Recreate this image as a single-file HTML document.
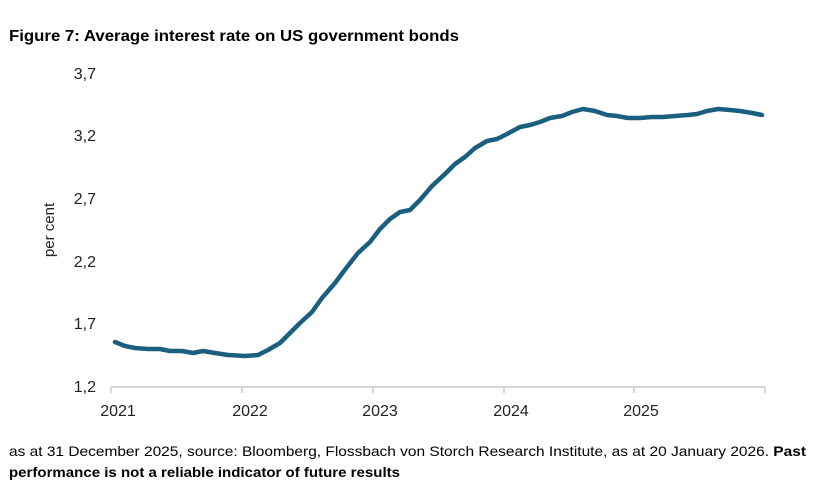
<!DOCTYPE html>
<html><head><meta charset="utf-8"><style>
body{margin:0;background:#fff;width:816px;height:502px;overflow:hidden;font-family:"Liberation Sans",Arial,sans-serif}
svg{position:absolute;left:0;top:0}
</style></head><body>
<svg width="816" height="502" xmlns="http://www.w3.org/2000/svg" font-family="Liberation Sans, Arial, sans-serif">
<text x="9" y="41" font-size="16" font-weight="bold" fill="#000" textLength="450" lengthAdjust="spacingAndGlyphs">Figure 7: Average interest rate on US government bonds</text>
<g font-size="16" fill="#222" text-anchor="end">
<text x="96" y="79">3,7</text>
<text x="96" y="141">3,2</text>
<text x="96" y="204">2,7</text>
<text x="96" y="267">2,2</text>
<text x="96" y="329">1,7</text>
<text x="96" y="392">1,2</text>
</g>
<text transform="translate(54,230) rotate(-90)" font-size="15" fill="#222" text-anchor="middle">per cent</text>
<g stroke="#bfbfbf" stroke-width="1.3">
<line x1="111" y1="387" x2="765" y2="387"/>
<line x1="111" y1="387" x2="111" y2="393"/>
<line x1="242" y1="387" x2="242" y2="393"/>
<line x1="373" y1="387" x2="373" y2="393"/>
<line x1="504" y1="387" x2="504" y2="393"/>
<line x1="634" y1="387" x2="634" y2="393"/>
<line x1="765" y1="387" x2="765" y2="393"/>
</g>
<g font-size="16" fill="#222" text-anchor="middle">
<text x="118" y="416">2021</text><text x="250" y="416">2022</text><text x="380" y="416">2023</text><text x="511" y="416">2024</text><text x="641" y="416">2025</text>
</g>
<polyline fill="none" stroke="#1b5f80" stroke-width="4.5" stroke-linejoin="round" stroke-linecap="round" points="115,342 125,346 135,348 148,349 160,349 170,351 182,351 193,353 203,351 215,353 228,355 245,356 258,355 268,350 280,343 290,333 300,323 312,312 322,298 335,283 347,267 358,253 370,242 380,229 390,219 400,212 410,210 420,200 432,186 445,174 455,164 465,157 475,148 487,141 497,139 507,134 520,127 530,125 540,122 550,118 562,116 572,112 583,109 595,111 607,115 617,116 628,118 640,118 652,117 663,117 675,116 688,115 697,114 707,111 718,109 730,110 740,111 752,113 762,115"/>
<text x="9" y="456" font-size="14" fill="#000" textLength="797" lengthAdjust="spacingAndGlyphs">as at 31 December 2025, source: Bloomberg, Flossbach von Storch Research Institute, as at 20 January 2026. <tspan font-weight="bold">Past</tspan></text>
<text x="9" y="477" font-size="14" font-weight="bold" fill="#000" textLength="391" lengthAdjust="spacingAndGlyphs">performance is not a reliable indicator of future results</text>
</svg>
</body></html>
